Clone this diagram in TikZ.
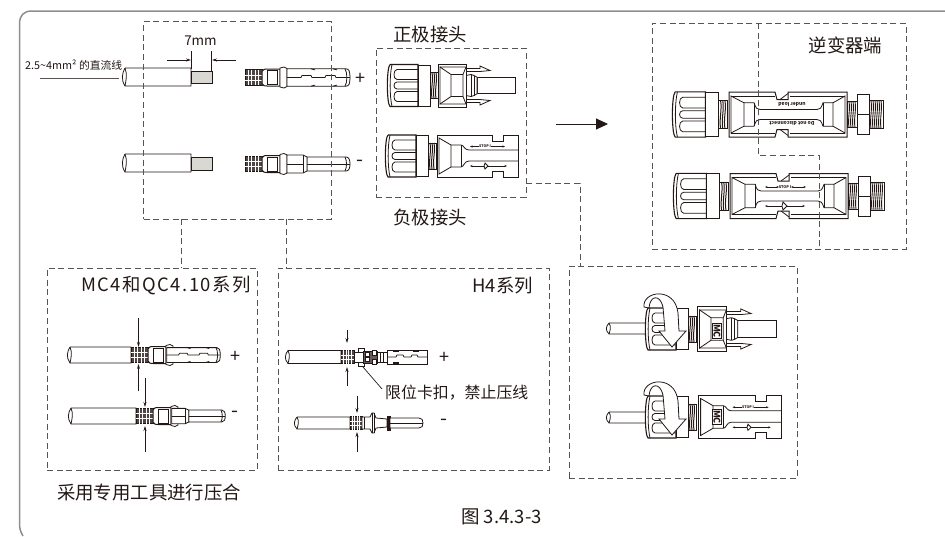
\documentclass[tikz,border=0pt]{standalone}
\usepackage{fontspec}
\setmainfont{Noto Sans CJK SC}
\usetikzlibrary{arrows.meta}
\definecolor{ink}{HTML}{231815}
\definecolor{dashc}{HTML}{555555}
\definecolor{framec}{HTML}{8E8E8E}
\definecolor{stripc}{HTML}{D9D9D4}
\newcommand{\fs}[1]{\fontsize{#1}{#1}\selectfont}
\newcommand{\cablep}[4]{% x1 x2 yc halfheight
  \draw[part,fill=white] (#1,#3-#4) -- (#2,#3-#4) -- (#2,#3+#4) -- (#1,#3+#4)
    .. controls (#1-4,#3+#4*.3) and (#1-3,#3-#4*.4) .. (#1,#3-#4);
  \draw[part] (#1,#3-#4) .. controls (#1+2.5,#3-#4*.3) and (#1+1,#3+#4*.4) .. (#1,#3+#4);
}
\tikzset{
  x=1pt,y=-1pt,
  dbox/.style={draw=dashc,line width=.9pt,dash pattern=on 6pt off 3.6pt,inner sep=0pt,outer sep=0pt},
  dlink/.style={draw=dashc,line width=.9pt,dash pattern=on 6pt off 3.6pt},
  lab/.style={inner sep=0pt,text=ink,font=\fs{18.4}},
  part/.style={draw=ink,line width=.8pt},
  tinyarrow/.style={draw=ink,line width=.45pt,{Stealth[length=2.5pt,width=2pt]}-{Stealth[length=2.5pt,width=2pt]}},
  mctag/.style={draw=ink,line width=1pt,fill=white,rotate=270,inner sep=.6pt,text=ink,font=\fs{9}\bfseries},
  squeeze/.style={draw=ink,line width=.7pt,-{Stealth[length=5pt,width=3pt]}},
  pics/crimp/.style={code={
    \draw[part,fill=ink!80] (0,-7.8) rectangle (17,7.8);
    \foreach \u in {3,6.5,10,13.5}{\draw[white,line width=.5pt] (\u,-7.8)--(\u,7.8);}
    \foreach \v in {-2.6,2.6}{\draw[white,line width=.5pt] (0,\v)--(17,\v);}
  }},
  pics/pinhead/.style={code={
    \pic {crimp};
    \draw[part,line width=1pt,fill=white] (17,-6) .. controls (19,-8.5) .. (22,-8.5) -- (35,-8.5) -- (35,8.5) -- (22,8.5) .. controls (19,8.5) .. (17,6) -- cycle;
    \draw[part,line width=1pt] (22,-7) rectangle (32,7);
    \draw[part,fill=white] (35,-9.5) -- (39,-10.5) -- (42,-9) -- (42,9) -- (39,10.5) -- (35,9.5) -- cycle;
  }},
  pics/pinplus/.style={code={
    \pic {pinhead};
    \draw[part,fill=white] (42,-8.7) -- (101,-8.7) .. controls (104,-8.7) and (105,-6) .. (105,0) .. controls (105,6) and (104,8.7) .. (101,8.7) -- (42,8.7) -- cycle;
    \draw[part] (100,-8.7) .. controls (102.5,-5) and (102.5,5) .. (100,8.7);
    \draw[part] (42,0) -- (56,0) -- (57,-2) -- (66,-2) -- (67,0) -- (80,0) -- (81,-2) -- (90,-2) -- (91,0) -- (105,0);
    \draw[part] (66,-8.7) -- (70,-7.6) (88,-8.7)--(92,-7.6) (66,8.7) -- (70,7.6) (88,8.7)--(92,7.6);
  }},
  pics/pinminus/.style={code={
    \pic {pinhead};
    \draw[part,fill=white] (62,-7) -- (101,-7) .. controls (104,-7) and (105,-4) .. (105,0) .. controls (105,4) and (104,7) .. (101,7) -- (62,7) -- cycle;
    \draw[part] (100,-7) .. controls (102,-3) and (102,3) .. (100,7);
    \draw[part] (62,0) -- (105,0);
    \draw[part,fill=white] (42,-9) -- (58,-9) -- (62,-7) -- (62,7) -- (58,9) -- (42,9) -- cycle;
    \draw[part] (42,0) -- (58,0) (58,-9) -- (58,9);
  }},
  pics/hood/.style={code={
    \draw[part,line width=1.1pt,fill=white] (3,-21) -- (31,-21) -- (31,21) -- (3,21) .. controls (-.5,18) and (-.5,-18) .. (3,-21);
    \draw[part] (5,-21) .. controls (2.5,-10) and (2.5,10) .. (5,21);
    \foreach \a/\b in {-16/-6,-3.5/3.5,6/16}{
      \draw[part] (31,\a) -- (10,\a) .. controls (6,\a) and (6,\b) .. (10,\b) -- (31,\b);}
    \draw[part,line width=.9pt,fill=white] (31,-20.5) rectangle (43,20.5);
    \draw[part,fill=white] (43,-13) rectangle (51,13);
    \foreach \u in {45,47,49}{\draw[part,line width=1pt] (\u,-13) .. controls (\u+1.5,-4) and (\u-1.5,4) .. (\u,13);}
  }},
  pics/posconn/.style={code={
    \pic {hood};
    \draw[part,fill=white] (79,-17) -- (93,-17) -- (93,-19.5) -- (103,-15) -- (93,-14) -- (79,-14) -- cycle;
    \draw[part,fill=white] (79,17) -- (93,17) -- (93,19.5) -- (103,15) -- (93,14) -- (79,14) -- cycle;
    \draw[part,fill=white] (90,-8.3) rectangle (128,8.3);
    \draw[part,fill=white] (79,-10) -- (84,-11) -- (87,-10) -- (90,-8.3) -- (90,8.3) -- (87,10) -- (84,11) -- (79,10) -- cycle;
    \draw[part] (84,-11) -- (84,11) (87,-10) -- (87,10);
    \draw[part,line width=1pt,fill=white] (51,-21.5) rectangle (79,21.5);
    \draw[part] (53,-18.5) -- (64,-11) -- (64,11) -- (53,18.5) -- cycle;
    \draw[part] (53,-18.5) -- (79,-18.5) (53,18.5) -- (79,18.5) (64,-11) -- (76,-11) -- (76,11) -- (64,11) (76,-11) -- (79,-18.5) (76,11) -- (79,18.5);
  }},
  pics/negconn/.style={code={
    \pic {hood};
    \draw[part,line width=1pt,fill=white] (52,-21) -- (107,-21) -- (107,-15) -- (118,-15) -- (118,-21) -- (133,-21) -- (133,21) -- (118,21) -- (118,15) -- (107,15) -- (107,21) -- (52,21) -- cycle;
    \draw[part] (54,-18) -- (66,-11) -- (66,11) -- (54,18) -- cycle;
    \draw[part] (66,-11) -- (76,-11) .. controls (79,-11) and (79,-6) .. (84,-6) -- (133,-6);
    \draw[part] (66,11) -- (76,11) .. controls (79,11) and (79,5) .. (84,5) -- (133,5);
    \draw[part] (76,-11) -- (76,11);
    \draw[tinyarrow] (85,-9.5) -- (120,-9.5);
    \node[fill=white,inner sep=.4pt,text=ink,font=\fs{3.6}\bfseries] (stoptag) at (100,-9.5) {STOP I};
    \draw[tinyarrow] (85,10) -- (122,10);
    \draw[part,fill=white] (100,7) -- (103,10) -- (100,13) -- (99,10) -- cycle;
  }},
  pics/invconn/.style={code={
    \pic[scale=1.08] {hood};
    \draw[part,line width=1pt,fill=white] (57,-22.5) -- (103,-22.5) -- (105,-15) -- (116,-15) -- (116,-22.5) -- (175,-22.5) -- (175,22.5) -- (116,22.5) -- (116,15) -- (105,15) -- (103,22.5) -- (57,22.5) -- cycle;
    \draw[part] (108,-15) -- (116,-21) (108,15) -- (116,21);
    \draw[part] (59,-18.5) -- (72,-11.7) -- (72,11.7) -- (59,18.5) -- cycle;
    \draw[part] (173,-18.5) -- (161,-11.7) -- (161,11.7) -- (173,18.5) -- cycle;
    \draw[part] (59,-18.5) -- (103,-18.5) (118,-18.5) -- (173,-18.5) (59,18.5) -- (103,18.5) (118,18.5) -- (173,18.5);
    \draw[part] (72,-11.7) -- (82,-11.7) .. controls (84,-6) and (85,-5) .. (88,-5) -- (145,-5) .. controls (148,-5) and (149,-6) .. (151,-11.7) -- (161,-11.7);
    \draw[part] (72,11.7) -- (82,11.7) .. controls (84,6) and (85,5) .. (88,5) -- (145,5) .. controls (148,5) and (149,6) .. (151,11.7) -- (161,11.7);
    \draw[part] (82,-11.7) -- (82,11.7) (151,-11.7) -- (151,11.7);
    \draw[part,fill=white] (175,-13) rectangle (185,13);
    \foreach \u in {177,179,181,183}{\draw[part,line width=.9pt] (\u,-13) .. controls (\u+1.5,-4) and (\u-1.5,4) .. (\u,13);}
    \draw[part,line width=1pt,fill=white] (185,-20) rectangle (197,20);
    \draw[part] (185,0) -- (197,0);
    \draw[part,fill=white] (197,-14) rectangle (211,14);
    \foreach \u in {199,201,203,205,207,209}{\draw[part,line width=.9pt] (\u,-14) .. controls (\u+1.5,-4) and (\u-1.5,4) .. (\u,14);}
  }},
  pics/swirl/.style={code={
    \draw[part,fill=white] (-1,-22) .. controls (-3,-38) and (30,-43) .. (33,-16) -- (34,2) -- (41,2) -- (27,18) -- (14,2) -- (20,2) -- (18,-22) .. controls (15,-35) and (5,-34) .. (4,-21) -- cycle;
  }},
}
\begin{document}
\begin{tikzpicture}
\useasboundingbox (0,0) rectangle (945,536);
% outer frame
\draw[framec,line width=1.5pt] (23,536) .. controls (20,531) and (19.5,528) .. (19.5,522) -- (19.5,24) .. controls (19.5,15) and (24,11) .. (32,11) -- (945,11);

% top stripped wires
\cablep{125}{191}{77}{9}
\draw[part,fill=stripc] (191,71) rectangle (212,83);
\cablep{125}{191}{163}{9}
\draw[part,fill=stripc] (191,157) rectangle (212,170);
\draw[part] (191,51) -- (191,69) (211,51) -- (211,71);
\coordinate (dimL) at (167,60); \coordinate (dimLe) at (191,60);
\coordinate (dimR) at (236,60); \coordinate (dimRe) at (212,60);
\draw[squeeze] (dimL) -- (dimLe);
\draw[squeeze] (dimR) -- (dimRe);
\node[lab,font=\fs{13.5}] (seven) at (200.5,41) {7mm};
\node[lab,font=\fs{10.8},anchor=west] (wirelab) at (25,65.5) {2.5\char`~4mm² 的直流线};
\coordinate (wireA) at (40,78); \coordinate (wireB) at (119,78);
\draw[ink!75,line width=.8pt] (wireA) -- (wireB);

% pins
\pic (p1) at (245,77.5) {pinplus};
\pic (p2) at (245,164) {pinminus};
\node[lab,font=\fs{18}] (plusA) at (360,79) {+};
\node[lab,font=\fs{20}] (minusA) at (360,163) {-};

% box B
\node[lab] (zheng) at (430,34.5) {正极接头};
\node[lab] (fu) at (430,217.5) {负极接头};
\pic (c1) at (387,85.5) {posconn};
\pic (c2) at (385,156) {negconn};

% middle arrow
\coordinate (bigA) at (556,124); \coordinate (bigB) at (608,124);
\draw[ink,line width=.9pt,-{Triangle[length=12pt,width=11pt]}] (bigA) -- (bigB);

% box C
\node[lab] (inv) at (845.5,45) {逆变器端};
\pic (c3) at (672,114.5) {invconn};
\pic (c4) at (673,196) {invconn};
\node[rotate=180,text=ink,inner sep=0pt,font=\fs{5}\bfseries] (load) at (792,104.5) {under load};
\node[rotate=180,text=ink,inner sep=0pt,font=\fs{5}\bfseries] (disc) at (792,124) {Do not disconnect};
\node[fill=white,inner sep=.4pt,text=ink,font=\fs{3.8}\bfseries] (stop2) at (785,187) {STOP I};
\draw[tinyarrow] (765,187) -- (779,187);
\draw[tinyarrow] (791,187) -- (806,187);
\draw[tinyarrow] (765,206) -- (805,206);
\draw[part,fill=white] (783,202) -- (787,206) -- (783,210) -- (782,206) -- cycle;

% box D
\node[lab,font=\fs{18.4}\addfontfeature{LetterSpace=8},anchor=east] (mc) at (251,286) {MC4和QC4.10系列};
\cablep{70}{131}{355}{8}
\pic[scale=.85] (p3) at (131,355) {pinplus};
\cablep{71}{136}{416}{8}
\pic[scale=.85] (p4) at (136,416) {pinminus};
\coordinate (a1) at (138.5,318); \coordinate (a1e) at (138.5,347);
\coordinate (a2) at (138.5,391); \coordinate (a2e) at (138.5,364);
\coordinate (a3) at (145,378); \coordinate (a3e) at (145,407);
\coordinate (a4) at (145,452); \coordinate (a4e) at (145,426);
\draw[squeeze] (a1) -- (a1e); \draw[squeeze] (a2) -- (a2e);
\draw[squeeze] (a3) -- (a3e); \draw[squeeze] (a4) -- (a4e);
\node[lab,font=\fs{18}] (plusD) at (235,357) {+};
\node[lab,font=\fs{20}] (minusD) at (235,414) {-};
\node[lab] (tool) at (149,493) {采用专用工具进行压合};

% box E
\node[lab,font=\fs{18.4},anchor=east] (h4) at (533,286) {H4系列};
\cablep{288}{341}{357}{6.5}
\begin{scope}[shift={(341,357)}]
  \pic[xscale=.76,yscale=.85] (p5) {crimp};
  \draw[part,fill=white] (17,-9) rectangle (23,9);
  \draw[part,fill=white] (13,-5) rectangle (22,5);
  \draw[part,fill=ink!70] (22,-6) rectangle (36,6);
  \draw[part,fill=white] (24,-4.5) rectangle (28,-.5) (31,-7) rectangle (35,-2) (24,.5) rectangle (28,4.5) (31,2) rectangle (35,7);
  \draw[part,fill=white] (36,-5) rectangle (46,5);
  \draw[part] (39,-5) -- (39,5) (42,-5) -- (42,5);
  \draw[part,line width=1pt,fill=white] (46,-7) rectangle (86,7);
  \draw[part] (46,0) -- (55,0) -- (56,-2) -- (62,-2) -- (63,0) -- (70,0) -- (71,-2) -- (76,-2) -- (77,0) -- (86,0);
  \draw[part,fill=ink] (52,-7) rectangle (57,-5.5) (52,5.5) rectangle (57,7) (72,-7) rectangle (77,-5.5);
\end{scope}
\cablep{297}{350}{423}{6}
\begin{scope}[shift={(350,423)}]
  \pic[xscale=.7,yscale=.85] (p6) {crimp};
  \draw[part,fill=white] (12,-6) -- (20,-6) -- (22,-10) -- (24,-10) -- (26,-5) -- (37,-4) -- (37,4) -- (26,5) -- (24,10) -- (22,10) -- (20,6) -- (12,6) -- cycle;
  \draw[part] (14,-6) -- (14,6) (22,-10) -- (22,10) (24,-10) -- (24,10);
  \draw[part,fill=ink] (37,-7) rectangle (40,7);
  \draw[part,fill=white] (40,-5) -- (69,-5) .. controls (72,-5) and (73,-3) .. (73,0) .. controls (73,3) and (72,5) .. (69,5) -- (40,5) -- cycle;
  \draw[part] (40,0) -- (73,0);
\end{scope}
\coordinate (b1) at (347,330); \coordinate (b1e) at (347,343);
\coordinate (b2) at (347,386); \coordinate (b2e) at (347,367);
\coordinate (b3) at (357,396); \coordinate (b3e) at (357,413);
\coordinate (b4) at (357,452); \coordinate (b4e) at (357,432);
\draw[squeeze] (b1) -- (b1e); \draw[squeeze] (b2) -- (b2e);
\draw[squeeze] (b3) -- (b3e); \draw[squeeze] (b4) -- (b4e);
\node[lab,font=\fs{18}] (plusE) at (444,358) {+};
\node[lab,font=\fs{20}] (minusE) at (444,422) {-};
\node[lab,font=\fs{15.9},anchor=west] (stopclip) at (385,393) {限位卡扣，禁止压线};
\coordinate (leadA) at (363,367); \coordinate (leadB) at (382,389);
\draw[ink,line width=.7pt] (leadA) -- (leadB);

% box F
\cablep{609}{647}{328.5}{5.5}
\pic[scale=1.03] (c5) at (645,329) {posconn};
\pic (sw1) at (645,329) {swirl};
\node[mctag] (mc1) at (717,331) {MC};
\cablep{609}{647}{417.5}{5.5}
\pic[scale=1.03] (c6) at (645,417) {negconn};
\pic (sw2) at (645,417) {swirl};
\node[mctag] (mc2) at (717,417) {MC};

% caption
\node[lab,font=\fs{18.5}] (cap) at (501.5,517) {图 3.4.3-3};

% dashed boxes
\node[dbox,minimum width=187.5pt,minimum height=197.5pt] (boxA) at (237.5,120.5) {};
\node[dbox,minimum width=150pt,minimum height=149pt] (boxB) at (451,122.5) {};
\node[dbox,minimum width=254pt,minimum height=226pt] (boxC) at (779,136) {};
\node[dbox,minimum width=210pt,minimum height=202pt] (boxD) at (152,369) {};
\node[dbox,minimum width=271pt,minimum height=202pt] (boxE) at (413.5,369) {};
\node[dbox,minimum width=228pt,minimum height=212pt] (boxF) at (683,372) {};
% dashed links
\draw[dlink] (181,0 |- boxA.south) -- (181,0 |- boxD.north);
\draw[dlink] (286.5,0 |- boxA.south) -- (286.5,0 |- boxE.north);
\draw[dlink] (boxB.east |- 0,183) -- (580,183) -- (580,0 |- boxF.north);
\draw[dlink] (758,0 |- boxC.north) -- (758,155) -- (819,155) -- (819,0 |- boxC.south);
\end{tikzpicture}
\end{document}
